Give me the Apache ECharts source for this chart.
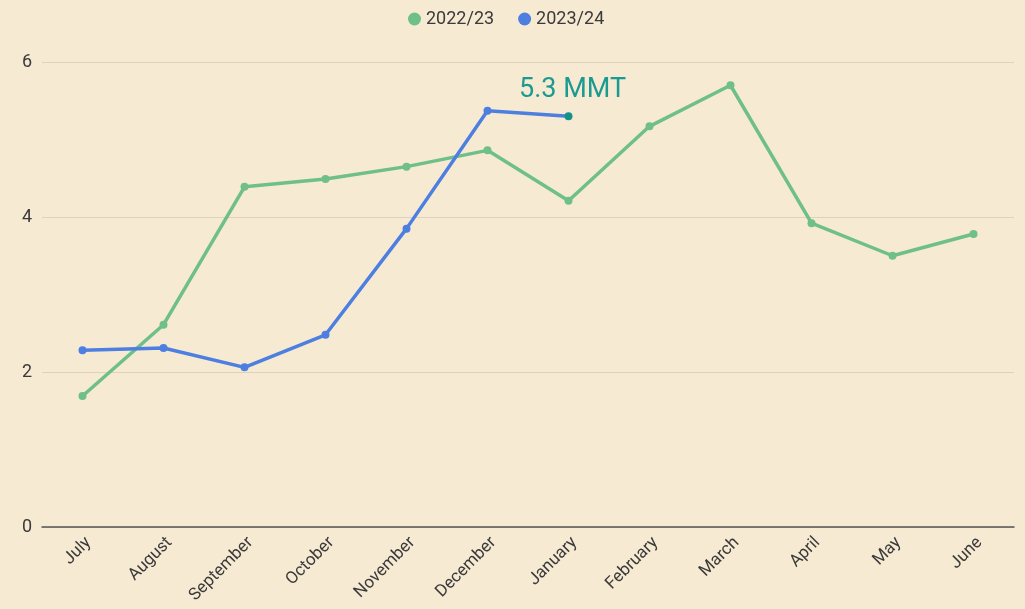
<!DOCTYPE html>
<html><head><meta charset="utf-8">
<script src="https://cdn.jsdelivr.net/npm/echarts@6/dist/echarts.min.js"></script>
<style>html,body{margin:0;padding:0;background:#f7ead3;}#c{width:1025px;height:609px;}</style>
</head><body><div id="c"></div>
<script>
const categories = ["July","August","September","October","November","December","January","February","March","April","May","June"];
const series2022 = [1.69, 2.61, 4.39, 4.49, 4.65, 4.86, 4.21, 5.17, 5.70, 3.92, 3.50, 3.78];
const series2023 = [2.28, 2.31, 2.06, 2.48, 3.85, 5.37, 5.30];
const yTicks = [0, 2, 4, 6];
const annotationText = "5.3 MMT";

const blueData = series2023.map((v, i) => i === series2023.length - 1 ? {
  value: v,
  itemStyle: { color: '#149189' },
  label: { show: true, formatter: annotationText, position: 'top', offset: [4, -4], color: '#1b9a91', fontSize: 27, fontFamily: 'Roboto' }
} : v);

const chart = echarts.init(document.getElementById('c'));
chart.setOption({
  backgroundColor: '#f7ead3',
  animation: false,
  textStyle: { fontFamily: 'Roboto' },
  legend: {
    top: 5, left: 403,
    icon: 'circle', itemWidth: 13, itemHeight: 13, itemGap: 24,
    textStyle: { color: '#3a3a3a', fontSize: 18, fontFamily: 'Roboto' },
    data: ['2022/23', '2023/24']
  },
  grid: { left: 42, right: 11, top: 62, bottom: 82 },
  xAxis: {
    type: 'category', data: categories, boundaryGap: true,
    axisLine: { lineStyle: { color: '#555', width: 1.5 } },
    axisTick: { show: false },
    axisLabel: { rotate: 45, color: '#3a3a3a', fontSize: 17, interval: 0, margin: 7, verticalAlign: 'top' }
  },
  yAxis: {
    type: 'value', min: yTicks[0], max: yTicks[yTicks.length - 1], interval: 2,
    axisLine: { show: false }, axisTick: { show: false },
    axisLabel: { color: '#3a3a3a', fontSize: 18, margin: 10 },
    splitLine: { lineStyle: { color: '#ddd2bf', width: 1 } }
  },
  series: [
    { name: '2022/23', type: 'line', data: series2022, color: '#6fbf88',
      lineStyle: { width: 3.5 }, symbol: 'circle', symbolSize: 8 },
    { name: '2023/24', type: 'line', data: blueData, color: '#4d7fe0',
      lineStyle: { width: 3.5 }, symbol: 'circle', symbolSize: 8 }
  ]
});
</script></body></html>
